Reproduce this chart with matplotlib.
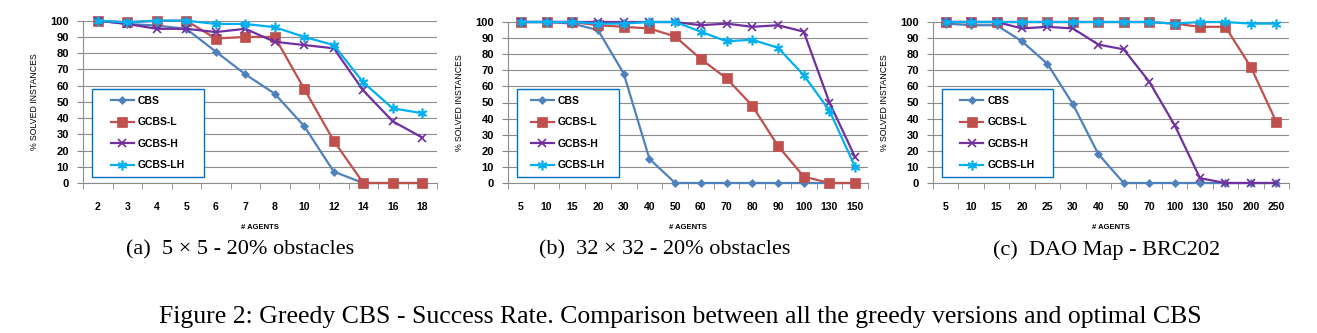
import numpy as np
import matplotlib.pyplot as plt
from matplotlib.patches import Rectangle

plt.rcParams['font.family'] = ['Liberation Sans', 'DejaVu Sans']

# success rate (%) per number of agents
agents_a = ['2', '3', '4', '5', '6', '7', '8', '10', '12', '14', '16', '18']
cbs_a = [100, 98, 97, 95, 81, 67, 55, 35, 7, 0, 0, 0]
gcbs_l_a = [100, 99, 100, 100, 89, 90, 90, 58, 26, 0, 0, 0]
gcbs_h_a = [100, 98, 95, 95, 93, 95, 87, 85, 83, 57, 38, 28]
gcbs_lh_a = [100, 99, 100, 100, 98, 98, 96, 90, 85, 62, 46, 43]

agents_b = ['5', '10', '15', '20', '30', '40', '50', '60', '70', '80', '90', '100', '130', '150']
cbs_b = [100, 100, 99, 95, 68, 15, 0, 0, 0, 0, 0, 0, 0, 0]
gcbs_l_b = [100, 100, 100, 98, 97, 96, 91, 77, 65, 48, 23, 4, 0, 0]
gcbs_h_b = [100, 100, 100, 100, 100, 100, 100, 98, 99, 97, 98, 94, 50, 16]
gcbs_lh_b = [100, 100, 100, 99, 99, 100, 100, 94, 88, 89, 84, 67, 45, 10]

agents_c = ['5', '10', '15', '20', '25', '30', '40', '50', '70', '100', '130', '150', '200', '250']
cbs_c = [99, 98, 98, 88, 74, 49, 18, 0, 0, 0, 0, 0, 0, 0]
gcbs_l_c = [100, 100, 100, 100, 100, 100, 100, 100, 100, 99, 97, 97, 72, 38]
gcbs_h_c = [100, 100, 100, 96, 97, 96, 86, 83, 63, 36, 3, 0, 0, 0]
gcbs_lh_c = [100, 100, 100, 100, 100, 100, 100, 100, 100, 99, 100, 100, 99, 99]

series_names = ['CBS', 'GCBS-L', 'GCBS-H', 'GCBS-LH']
colors = ['#4F81BD', '#C0504D', '#7030A0', '#00B0F0']
markers = ['D', 's', 'x', (6, 2, 0)]
msizes = [4.5, 6.5, 6, 7]

# (categories, series, caption, axes left/right px, top px, caption centre px, legend width px)
panels = [
    (agents_a, [cbs_a, gcbs_l_a, gcbs_h_a, gcbs_lh_a], '(a)  5 × 5 - 20% obstacles', 83, 437, 20.7, 240, 112),
    (agents_b, [cbs_b, gcbs_l_b, gcbs_h_b, gcbs_lh_b], '(b)  32 × 32 - 20% obstacles', 508, 868, 22, 665, 102),
    (agents_c, [cbs_c, gcbs_l_c, gcbs_h_c, gcbs_lh_c], '(c)  DAO Map - BRC202', 933, 1289, 22, 1107, 111),
]

W, H = 1317, 333
serif = ['Liberation Serif', 'DejaVu Serif']
fig = plt.figure(figsize=(W / 100, H / 100), dpi=100)

for cats, data, caption, x0, x1, ytop, capx, legw in panels:
    ybot = 183
    aw, ah = x1 - x0, ybot - ytop
    ax = fig.add_axes([x0 / W, 1 - ybot / H, aw / W, ah / H])
    xs = np.arange(len(cats))
    for vals, name, c, m, ms in zip(data, series_names, colors, markers, msizes):
        ax.plot(xs, vals, color=c, marker=m, markersize=ms, linewidth=1.6,
                markeredgewidth=1.2 if m in ('x', (6, 2, 0)) else 0.5,
                label=name, clip_on=False, zorder=3)
    ax.set_xlim(-0.5, len(cats) - 0.5)
    ax.set_ylim(0, 100)
    ax.set_yticks(range(0, 101, 10))
    ax.set_xticks(xs)
    ax.set_xticklabels(cats)
    ax.set_xticks(np.arange(-0.5, len(cats), 1.0), minor=True)
    ax.tick_params(axis='x', which='major', length=0, pad=14, labelsize=7.5)
    ax.tick_params(axis='x', which='minor', length=4, color='#888888', direction='out')
    ax.tick_params(axis='y', length=4, color='#888888', pad=6, labelsize=8)
    for lbl in ax.get_xticklabels() + ax.get_yticklabels():
        lbl.set_fontweight('bold')
    ax.grid(axis='y', color='#8c8c8c', linewidth=0.8, zorder=0)
    for s in ('top', 'right'):
        ax.spines[s].set_visible(False)
    ax.spines['left'].set_color('#8c8c8c')
    ax.spines['bottom'].set_color('#8c8c8c')
    ax.set_ylabel('% SOLVED INSTANCES', fontsize=6.3, labelpad=8)
    ax.set_xlabel('# AGENTS', fontsize=5.5, fontweight='bold', labelpad=8)

    # legend frame drawn separately so the padding can be wider than tall
    lx, ly, lh = 9 / aw, 6 / ah, 88 / ah
    lw = legw / aw
    ax.add_patch(Rectangle((lx, ly), lw, lh, transform=ax.transAxes, facecolor='white',
                           edgecolor='#0070C0', linewidth=1.0, zorder=4, clip_on=False))
    leg = ax.legend(loc='center', bbox_to_anchor=(lx + lw / 2, ly + lh / 2), frameon=False,
                    prop={'size': 7.5, 'weight': 'bold'}, handlelength=2.2,
                    labelspacing=1.1, borderpad=0, handletextpad=0.4)
    leg.set_zorder(5)

    fig.text(capx / W, 1 - 250 / H, caption, ha='center', va='center',
             fontsize=16, family=serif)

fig.text(680 / W, 1 - 317 / H,
         'Figure 2: Greedy CBS - Success Rate. Comparison between all the greedy versions and optimal CBS',
         ha='center', va='center', fontsize=18.5, family=serif)

fig.savefig('out.png', dpi=100)
